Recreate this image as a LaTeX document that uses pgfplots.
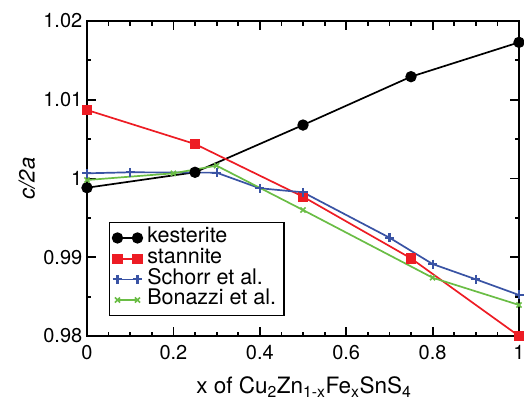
\documentclass[border=0pt]{standalone}
\usepackage{fontspec}
\setmainfont{TeX Gyre Heros}
\usepackage{pgfplots}
\pgfplotsset{compat=1.18}
\definecolor{kred}{RGB}{237,28,36}
\definecolor{kblue}{RGB}{57,83,164}
\definecolor{kgreen}{RGB}{106,189,69}
\begin{document}
\begin{tikzpicture}[x=1pt,y=1pt]
\begin{axis}[
  at={(0,0)}, anchor=south west,
  scale only axis, width=432pt, height=315pt,
  xmin=0, xmax=1, ymin=0.98, ymax=1.02,
  xtick={0,0.2,0.4,0.6,0.8,1},
  xticklabels={0,0.2,0.4,0.6,0.8,1},
  ytick={0.98,0.99,1,1.01,1.02},
  yticklabels={0.98,0.99,1,1.01,1.02},
  minor xtick={0.05,0.1,...,0.95},
  minor ytick={0.985,0.995,1.005,1.015},
  tick align=inside,
  major tick length=9pt, minor tick length=4.5pt,
  every tick/.style={line width=1.8pt, black},
  axis line style={line width=2.3pt},
  tick label style={font=\fontsize{20}{20}\selectfont, inner sep=0pt},
  yticklabel style={xshift=-4.5pt},
  xticklabel style={yshift=-9.5pt},
  xlabel={x of Cu\textsubscript{2}Zn\textsubscript{1-x}Fe\textsubscript{x}SnS\textsubscript{4}},
  ylabel={\textit{c/2a}},
  label style={font=\fontsize{22.5}{22.5}\selectfont},
  xlabel style={at={(axis description cs:0.502,-0.184)}, anchor=base},
  ylabel style={at={(axis description cs:-0.139,0.5)}, anchor=center, font=\fontsize{22}{22}\selectfont},
  clip=false,
  legend style={at={(0.051,0.362)}, anchor=north west,
    font=\fontsize{21.5}{21.5}\selectfont, draw=black, line width=1.3pt,
    inner xsep=3pt, inner ysep=5pt, row sep=0pt,
    nodes={inner ysep=0pt, inner xsep=5pt, text height=15pt, text depth=5.7pt},
    cells={anchor=west}},
  legend image code/.code={\draw[mark repeat=1,#1] plot coordinates {(0pt,0pt) (20pt,0pt)};},
]
\addplot[black, line width=1.7pt, mark=*, mark size=4.8pt, mark options={solid}] coordinates {
 (0,0.99883) (0.25,1.00079) (0.5,1.00679) (0.75,1.01293) (1,1.01729)};
\addlegendentry{kesterite}
\addplot[kred, line width=1.7pt, mark=square*, mark size=4.3pt] coordinates {
 (0,1.0087) (0.25,1.00438) (0.5,0.99769) (0.75,0.98986) (1,0.98)};
\addlegendentry{stannite}
\addplot[kblue, line width=1.7pt, mark=+, mark size=4.5pt, mark options={line width=2.2pt}] coordinates {
 (0,1.00066) (0.1,1.00079) (0.3,1.00074) (0.4,0.99876) (0.5,0.99825) (0.7,0.99249) (0.8,0.98914) (0.9,0.9872) (1,0.98521)};
\addlegendentry{Schorr et al.}
\addplot[kgreen, line width=1.7pt, mark=x, mark size=3.6pt, mark options={line width=1.6pt}] coordinates {
 (0,0.99981) (0.2,1.00066) (0.3,1.00163) (0.5,0.996) (0.8,0.9874) (1,0.98394)};
\addlegendentry{Bonazzi et al.}
\end{axis}
\pgfresetboundingbox
\path[use as bounding box] (-87,-64) rectangle (437,336);
\end{tikzpicture}
\end{document}
